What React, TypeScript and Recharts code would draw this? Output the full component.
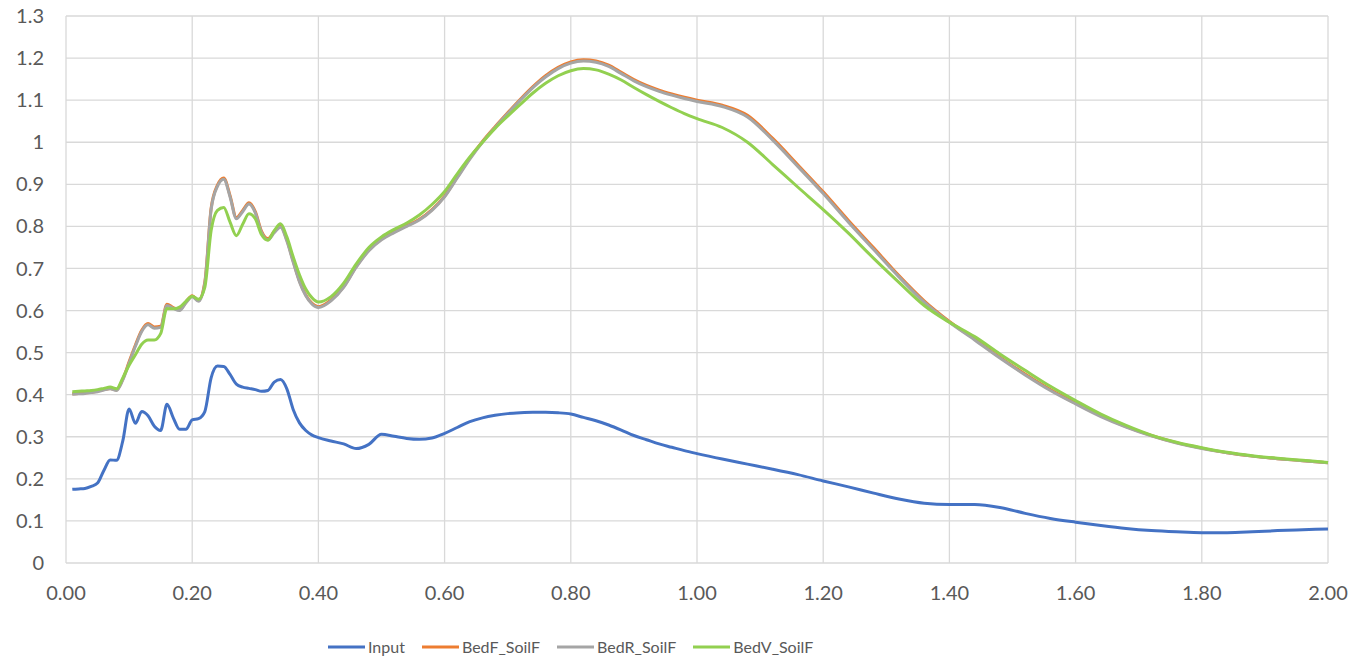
import React from 'react';
import { LineChart, Line, XAxis, YAxis, CartesianGrid, Legend } from 'recharts';

// Period axis: fine steps where the spectra wiggle, coarser further out
const periods = [
  0.01, 0.02, 0.03, 0.04, 0.05, 0.06, 0.07, 0.08, 0.09, 0.10,
  0.11, 0.12, 0.13, 0.14, 0.15, 0.16, 0.17, 0.18, 0.19, 0.20,
  0.21, 0.22, 0.23, 0.24, 0.25, 0.26, 0.27, 0.28, 0.29, 0.30,
  0.31, 0.32, 0.33, 0.34, 0.35, 0.36, 0.37, 0.38, 0.39, 0.40,
  0.42, 0.44, 0.46, 0.48, 0.50, 0.52, 0.54, 0.56, 0.58, 0.60,
  0.62, 0.64, 0.66, 0.68, 0.70, 0.72, 0.74, 0.76, 0.78, 0.80,
  0.82, 0.84, 0.86, 0.88, 0.90, 0.92, 0.94, 0.96, 0.98, 1.00,
  1.04, 1.08, 1.12, 1.16, 1.20, 1.24, 1.28, 1.32, 1.36, 1.40,
  1.44, 1.48, 1.52, 1.56, 1.60, 1.64, 1.68, 1.72, 1.76, 1.80,
  1.84, 1.88, 1.92, 1.96, 2.00,
];

const input = [
  0.175, 0.176, 0.177, 0.182, 0.19, 0.22, 0.245, 0.244, 0.29, 0.366,
  0.332, 0.36, 0.35, 0.325, 0.315, 0.377, 0.345, 0.318, 0.318, 0.34,
  0.343, 0.36, 0.44, 0.468, 0.467, 0.448, 0.425, 0.418, 0.415, 0.412,
  0.408, 0.41, 0.43, 0.436, 0.414, 0.365, 0.333, 0.315, 0.304, 0.298,
  0.29, 0.283, 0.272, 0.282, 0.306, 0.301, 0.296, 0.294, 0.297, 0.308,
  0.322, 0.336, 0.345, 0.351, 0.355, 0.357, 0.358, 0.358, 0.357, 0.354,
  0.346, 0.338, 0.328, 0.316, 0.303, 0.293, 0.283, 0.275, 0.267, 0.26,
  0.247, 0.235, 0.223, 0.21, 0.195, 0.181, 0.166, 0.152, 0.142, 0.139,
  0.139, 0.132, 0.118, 0.106, 0.097, 0.089, 0.082, 0.077, 0.074, 0.072,
  0.072, 0.074, 0.077, 0.079, 0.081,
];

const bedF = [
  0.402, 0.403, 0.404, 0.406, 0.408, 0.412, 0.415, 0.411, 0.437, 0.478,
  0.518, 0.553, 0.569, 0.561, 0.563, 0.615, 0.607, 0.602, 0.62, 0.635,
  0.624, 0.668, 0.843, 0.898, 0.915, 0.873, 0.821, 0.838, 0.856, 0.835,
  0.788, 0.771, 0.788, 0.801, 0.768, 0.718, 0.67, 0.637, 0.617, 0.609,
  0.625, 0.657, 0.705, 0.744, 0.77, 0.787, 0.802, 0.817, 0.84, 0.872,
  0.917, 0.962, 1.002, 1.037, 1.07, 1.102, 1.132, 1.158, 1.178, 1.191,
  1.196, 1.193, 1.183, 1.166, 1.149, 1.135, 1.124, 1.115, 1.107, 1.1,
  1.088, 1.064, 1.009, 0.946, 0.882, 0.814, 0.749, 0.683, 0.623, 0.574,
  0.532, 0.489, 0.449, 0.412, 0.38, 0.35, 0.324, 0.303, 0.286, 0.273,
  0.262, 0.254, 0.248, 0.243, 0.238,
];

const bedR = [
  0.401, 0.402, 0.403, 0.405, 0.407, 0.411, 0.414, 0.41, 0.435, 0.475,
  0.515, 0.55, 0.566, 0.558, 0.56, 0.612, 0.605, 0.6, 0.618, 0.633,
  0.622, 0.665, 0.84, 0.895, 0.912, 0.87, 0.818, 0.835, 0.853, 0.832,
  0.785, 0.768, 0.785, 0.798, 0.765, 0.715, 0.668, 0.635, 0.615, 0.607,
  0.623, 0.655, 0.703, 0.742, 0.768, 0.785, 0.8, 0.815, 0.838, 0.87,
  0.915, 0.96, 1.0, 1.035, 1.068, 1.1, 1.13, 1.155, 1.175, 1.188,
  1.193, 1.19, 1.18, 1.163, 1.146, 1.132, 1.121, 1.112, 1.104, 1.097,
  1.085, 1.06, 1.005, 0.942, 0.878, 0.81, 0.745, 0.68, 0.62, 0.572,
  0.53, 0.487, 0.447, 0.41, 0.378, 0.348, 0.323, 0.302, 0.285, 0.272,
  0.262, 0.254, 0.248, 0.243, 0.238,
];

const bedV = [
  0.407, 0.408, 0.409, 0.41, 0.412, 0.415, 0.418, 0.414, 0.44, 0.47,
  0.495, 0.52, 0.53, 0.53, 0.545, 0.605, 0.604, 0.608, 0.622, 0.634,
  0.627, 0.655, 0.79, 0.838, 0.845, 0.81, 0.778, 0.805, 0.83, 0.818,
  0.78, 0.767, 0.79, 0.806, 0.775, 0.728, 0.685, 0.651, 0.63, 0.62,
  0.633, 0.665, 0.711, 0.75, 0.775, 0.793, 0.808, 0.827, 0.852, 0.883,
  0.925, 0.965, 1.0, 1.033, 1.062, 1.09, 1.117, 1.14, 1.158, 1.17,
  1.175, 1.172, 1.162, 1.148, 1.13, 1.113, 1.097, 1.082, 1.068, 1.056,
  1.035, 1.0, 0.947, 0.893, 0.84, 0.784, 0.724, 0.667, 0.612, 0.572,
  0.538, 0.497, 0.458, 0.42, 0.386, 0.354, 0.327, 0.304, 0.287, 0.274,
  0.263, 0.255, 0.249, 0.244, 0.239,
];

const xTicks = [0, 0.2, 0.4, 0.6, 0.8, 1.0, 1.2, 1.4, 1.6, 1.8, 2.0];
const yTicks = [0, 0.1, 0.2, 0.3, 0.4, 0.5, 0.6, 0.7, 0.8, 0.9, 1.0, 1.1, 1.2, 1.3];

const seriesNames = ['Input', 'BedF_SoilF', 'BedR_SoilF', 'BedV_SoilF'];
const seriesKeys = ['input', 'bedF', 'bedR', 'bedV'];
const seriesColors = ['#4472C4', '#ED7D31', '#A5A5A5', '#92D050'];

const data = periods.map((x, i) => ({
  x,
  input: input[i],
  bedF: bedF[i],
  bedR: bedR[i],
  bedV: bedV[i],
}));

const FONT = 'Lato, "Open Sans", sans-serif';
const TEXT = '#595959';

const LegendRow = () => (
  <div style={{ display: 'flex', alignItems: 'center', fontFamily: FONT, fontSize: 16, color: TEXT }}>
    {seriesNames.map((name, i) => (
      <div key={name} style={{ display: 'flex', alignItems: 'center', marginRight: 17 }}>
        <svg width={37} height={6} style={{ marginRight: 3 }}>
          <line x1={0} y1={3} x2={37} y2={3} stroke={seriesColors[i]} strokeWidth={3} strokeLinecap="round" />
        </svg>
        <span>{name}</span>
      </div>
    ))}
  </div>
);

const App: React.FC = () => {
  return (
    <>
      {/* chart fills the whole window, so drop the default body margin */}
      <style>{'body { margin: 0; }'}</style>
      <div style={{ width: 1350, height: 659 }}>
        <LineChart
          width={1350}
          height={659}
          data={data}
          margin={{ top: 16, right: 22, left: 0, bottom: 27 }}
        >
          <CartesianGrid stroke="#D9D9D9" strokeWidth={1.3} />
          <XAxis
            dataKey="x"
            type="number"
            domain={[0, 2]}
            ticks={xTicks}
            tickFormatter={(v: number) => v.toFixed(2)}
            axisLine={false}
            tickLine={false}
            tickSize={0}
            tickMargin={23}
            height={50}
            tick={{ fill: TEXT, fontSize: 20, fontFamily: FONT }}
          />
          <YAxis
            type="number"
            domain={[0, 1.3]}
            ticks={yTicks}
            tickFormatter={(v: number) => String(Math.round(v * 10) / 10)}
            axisLine={false}
            tickLine={false}
            tickSize={0}
            tickMargin={22}
            width={66}
            tick={{ fill: TEXT, fontSize: 20, fontFamily: FONT }}
          />
          <Legend
            verticalAlign="bottom"
            content={() => <LegendRow />}
            wrapperStyle={{ left: 328, top: 637, width: 'auto' }}
          />
          {seriesKeys.map((key, i) => (
            <Line
              key={key}
              type="monotone"
              dataKey={key}
              name={seriesNames[i]}
              stroke={seriesColors[i]}
              strokeWidth={3}
              dot={false}
              isAnimationActive={false}
            />
          ))}
        </LineChart>
      </div>
    </>
  );
};

export default App;
